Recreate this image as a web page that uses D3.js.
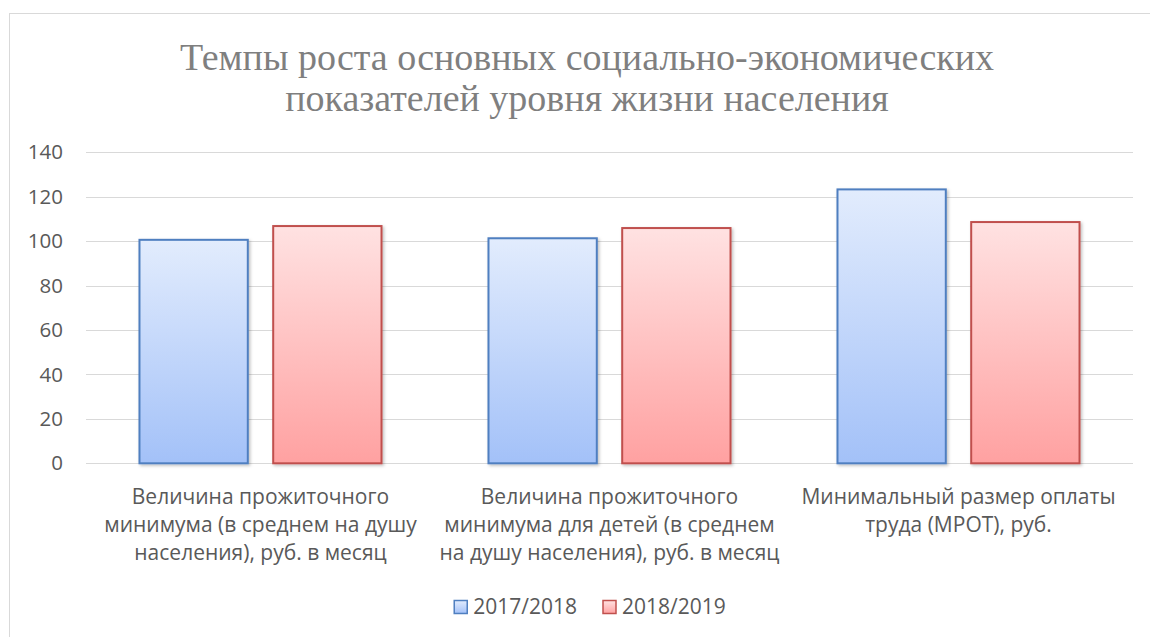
<!DOCTYPE html>
<html>
<head>
<meta charset="utf-8">
<script src="https://cdn.jsdelivr.net/npm/d3@7"></script>
<style>
  body { margin: 0; background: #fff; }
  svg { display: block; }
</style>
</head>
<body>
<div id="chart"></div>
<script>
// data
const titleLines = ["Темпы роста основных социально-экономических", "показателей уровня жизни населения"];
const categories = ["prozh", "prozhDeti", "mrot"];
const categoryLines = [
  ["Величина прожиточного", "минимума (в среднем на душу", "населения), руб. в месяц"],
  ["Величина прожиточного", "минимума для детей (в среднем", "на душу населения), руб. в месяц"],
  ["Минимальный размер оплаты", "труда (МРОТ), руб."]
];
const seriesNames = ["2017/2018", "2018/2019"];
const values1718 = [100.6, 101.3, 123.3];
const values1819 = [106.8, 105.9, 108.6];
const yTicks = [0, 20, 40, 60, 80, 100, 120, 140];

const width = 1150, height = 637;
const plot = { left: 86, right: 1133, top: 152.3, bottom: 463.3 };
const cx = 587;
const sans = "'Open Sans', 'Noto Sans', sans-serif";

const svg = d3.select("#chart").append("svg")
  .attr("width", width)
  .attr("height", height);

const defs = svg.append("defs");
const palette = [
  { id: "gBlue", top: "#e2ecfd", bottom: "#a3c1f8", stroke: "#4f7fc0" },
  { id: "gRed", top: "#ffe2e2", bottom: "#ffa1a1", stroke: "#c0504d" }
];
palette.forEach(p => {
  const g = defs.append("linearGradient").attr("id", p.id)
    .attr("x1", 0).attr("y1", 0).attr("x2", 0).attr("y2", 1);
  g.append("stop").attr("offset", "0%").attr("stop-color", p.top);
  g.append("stop").attr("offset", "100%").attr("stop-color", p.bottom);
});
defs.append("filter").attr("id", "shadow")
  .attr("x", "-10%").attr("y", "-10%").attr("width", "130%").attr("height", "130%")
  .append("feDropShadow")
  .attr("dx", 1.5).attr("dy", 1.5).attr("stdDeviation", 1.5)
  .attr("flood-color", "#000").attr("flood-opacity", 0.25);

// chart frame
svg.append("rect")
  .attr("x", 9.5).attr("y", 13.5)
  .attr("width", 1150).attr("height", 640)
  .attr("fill", "#fff")
  .attr("stroke", "#d9d9d9").attr("stroke-width", 1);

// title
svg.append("text")
  .attr("text-anchor", "middle")
  .attr("font-family", "'Liberation Serif', 'Times New Roman', serif")
  .attr("font-size", 38)
  .attr("fill", "#7f7f7f")
  .selectAll("tspan")
  .data(titleLines)
  .join("tspan")
  .attr("x", cx)
  .attr("y", (d, i) => 70 + i * 41)
  .text(d => d);

const y = d3.scaleLinear().domain([0, 140]).range([plot.bottom, plot.top]);
const x0 = d3.scaleBand().domain(categories).range([plot.left, plot.right]).padding(0);
const x1 = d3.scaleBand().domain(seriesNames).range([0, x0.bandwidth()])
  .paddingInner(0.19).paddingOuter(0.4);

// gridlines
svg.append("g")
  .selectAll("line")
  .data(yTicks)
  .join("line")
  .attr("x1", plot.left).attr("x2", plot.right)
  .attr("y1", d => Math.round(y(d)) + 0.5)
  .attr("y2", d => Math.round(y(d)) + 0.5)
  .attr("stroke", "#d9d9d9").attr("stroke-width", 1);

// y axis labels
const yAxis = svg.append("g")
  .attr("transform", `translate(${plot.left - 23},0)`)
  .call(d3.axisLeft(y).tickValues(yTicks).tickSize(0).tickPadding(0));
yAxis.select(".domain").remove();
yAxis.selectAll("text")
  .attr("font-family", sans)
  .attr("font-size", 20.5)
  .attr("fill", "#595959");

// bars
const rows = categories.map((c, i) => ({ c, vals: [values1718[i], values1819[i]] }));
const groups = svg.append("g").selectAll("g")
  .data(rows)
  .join("g")
  .attr("transform", d => `translate(${x0(d.c)},0)`);

groups.selectAll("rect")
  .data(d => d.vals.map((v, k) => ({ s: seriesNames[k], v, k })))
  .join("rect")
  .attr("x", d => x1(d.s))
  .attr("y", d => y(d.v))
  .attr("width", x1.bandwidth())
  .attr("height", d => y(0) - y(d.v))
  .attr("fill", d => `url(#${palette[d.k].id})`)
  .attr("stroke", d => palette[d.k].stroke)
  .attr("stroke-width", 2)
  .attr("filter", "url(#shadow)");

// category labels
svg.append("g").selectAll("text")
  .data(categories)
  .join("text")
  .attr("text-anchor", "middle")
  .attr("font-family", sans)
  .attr("font-size", 21)
  .attr("fill", "#595959")
  .each(function (c, i) {
    d3.select(this).selectAll("tspan")
      .data(categoryLines[i])
      .join("tspan")
      .attr("x", x0(c) + x0.bandwidth() / 2)
      .attr("y", (d, j) => 497 + j * 28)
      .attr("dy", "0.35em")
      .text(d => d);
  });

// legend
const legend = svg.append("g");
const items = legend.selectAll("g")
  .data(seriesNames)
  .join("g");
items.append("rect")
  .attr("width", 13).attr("height", 13)
  .attr("y", -6.5)
  .attr("fill", (d, k) => `url(#${palette[k].id})`)
  .attr("stroke", (d, k) => palette[k].stroke)
  .attr("stroke-width", 1.5);
items.append("text")
  .attr("x", 19)
  .attr("dy", "0.35em")
  .attr("font-family", sans)
  .attr("font-size", 21)
  .attr("fill", "#595959")
  .text(d => d);

let offset = 0;
const gap = 26;
items.each(function () {
  const w = this.getBBox().width;
  d3.select(this).attr("data-w", w);
});
items.attr("transform", function () {
  const w = +this.getAttribute("data-w");
  const t = `translate(${offset},0)`;
  offset += w + gap;
  return t;
});
const total = offset - gap;
legend.attr("transform", `translate(${cx + 3 - total / 2},607)`);
</script>
</body>
</html>
